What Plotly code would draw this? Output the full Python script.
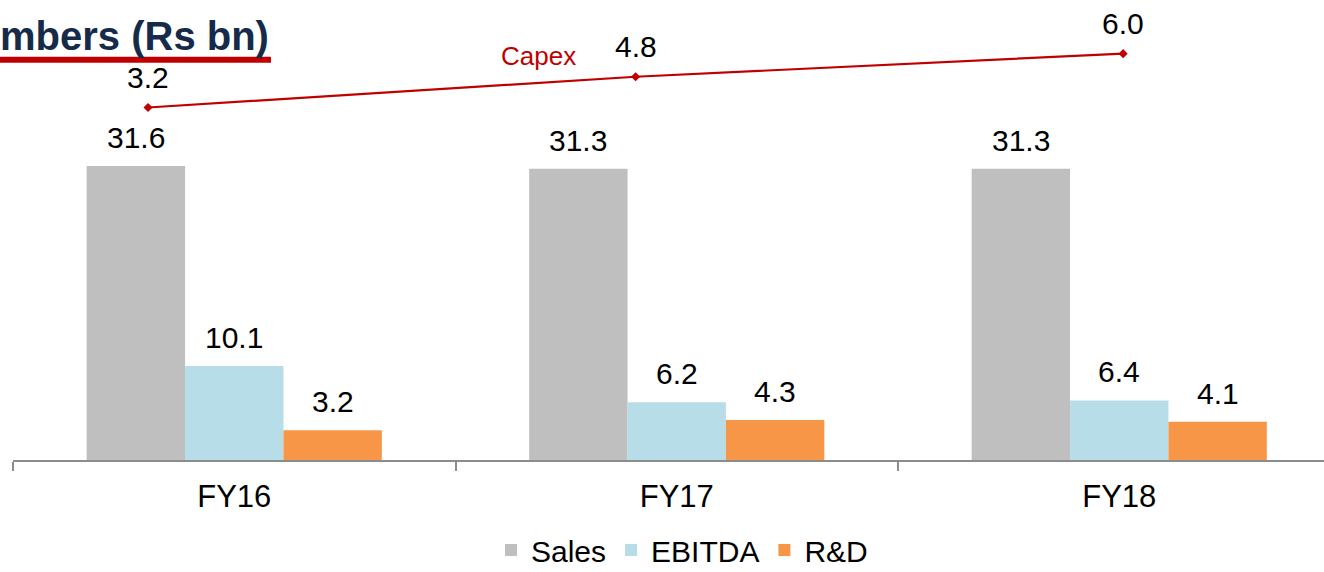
import plotly.graph_objects as go

# Key figures, Rs bn
years = ["FY16", "FY17", "FY18"]
sales = [31.6, 31.3, 31.3]
ebitda = [10.1, 6.2, 6.4]
rnd = [3.2, 4.3, 4.1]
capex = [3.2, 4.8, 6.0]

series_names = ["Sales", "EBITDA", "R&D"]
series_colors = ["#BFBFBF", "#B7DEE8", "#F79646"]
capex_color = "#C00000"
title_color = "#162B4A"

FONT = "Liberation Sans, Arial, sans-serif"
W, H = 1324, 572
ML, MB = 13, 112
plot_w, plot_h = W - ML, H - MB
cat_px = 442.5          # width of one category slot
bargap = 0.333
n_series = 3
bar_w = (1 - bargap) / n_series


def paper_x(px):
    return (px - ML) / plot_w


def paper_y(py):
    return (plot_h - py) / plot_h


fig = go.Figure()

for name, vals, col in zip(series_names, [sales, ebitda, rnd], series_colors):
    fig.add_trace(go.Bar(
        name=name, x=years, y=vals, marker=dict(color=col, line=dict(width=0)),
        hoverinfo="skip",
    ))

fig.add_trace(go.Scatter(
    name="Capex", x=years, y=capex, xaxis="x2", yaxis="y2",
    mode="lines+markers", showlegend=False,
    line=dict(color=capex_color, width=2.2),
    marker=dict(symbol="diamond", size=7, color=capex_color),
    hoverinfo="skip",
))

annotations = []
# value labels above each bar
for j, vals in enumerate([sales, ebitda, rnd]):
    off = (j - (n_series - 1) / 2) * bar_w
    for i, v in enumerate(vals):
        annotations.append(dict(
            x=i + off, y=v, xref="x", yref="y", text=f"{v:.1f}",
            showarrow=False, yanchor="bottom", yshift=10,
            font=dict(family=FONT, size=30, color="#000000"),
        ))
# capex value labels
for i, v in enumerate(capex):
    annotations.append(dict(
        x=i, y=v, xref="x2", yref="y2", text=f"{v:.1f}",
        showarrow=False, yanchor="bottom", yshift=12,
        font=dict(family=FONT, size=30, color="#000000"),
    ))
# capex series name
annotations.append(dict(
    x=paper_x(538), y=paper_y(56), xref="paper", yref="paper", text="Capex",
    showarrow=False, xanchor="center", yanchor="middle",
    font=dict(family=FONT, size=26, color=capex_color),
))
# heading
annotations.append(dict(
    x=paper_x(-2), y=paper_y(36), xref="paper", yref="paper",
    text="<b>mbers (Rs bn)</b>", showarrow=False,
    xanchor="left", yanchor="middle",
    font=dict(family=FONT, size=40, color=title_color),
))

shapes = [dict(
    type="line", xref="paper", yref="paper",
    x0=paper_x(0), x1=paper_x(271), y0=paper_y(59.7), y1=paper_y(59.7),
    line=dict(color=capex_color, width=6),
)]

axis_grey = "#8C8C8C"
fig.update_layout(
    width=W, height=H,
    margin=dict(l=ML, r=0, t=0, b=MB, pad=0, autoexpand=False),
    paper_bgcolor="white", plot_bgcolor="white",
    barmode="group", bargap=bargap, bargroupgap=0,
    font=dict(family=FONT, size=31, color="#000000"),
    xaxis=dict(
        type="category", range=[-0.5, -0.5 + plot_w / cat_px],
        showline=True, linecolor=axis_grey, linewidth=2,
        ticks="outside", tickson="boundaries", ticklen=9,
        tickcolor=axis_grey, tickwidth=2, ticklabelstandoff=8,
        tickfont=dict(family=FONT, size=31, color="#000000"),
        showgrid=False, zeroline=False, fixedrange=True, automargin=False,
    ),
    yaxis=dict(range=[0, plot_h / 9.304], visible=False, showgrid=False,
               zeroline=False, fixedrange=True, automargin=False),
    xaxis2=dict(type="category", overlaying="x", range=[-0.277, 2.412],
                visible=False, showgrid=False, zeroline=False),
    yaxis2=dict(overlaying="y", range=[-15.13, 8.79], visible=False,
                showgrid=False, zeroline=False),
    legend=dict(
        orientation="h", x=paper_x(682), xanchor="center",
        y=paper_y(550), yanchor="middle",
        font=dict(family=FONT, size=30, color="#000000"),
        bgcolor="rgba(0,0,0,0)", traceorder="normal", borderwidth=0,
        itemwidth=30,
    ),
    annotations=annotations,
    shapes=shapes,
    showlegend=True,
)

fig.write_html("out.html", config={"displayModeBar": False})
